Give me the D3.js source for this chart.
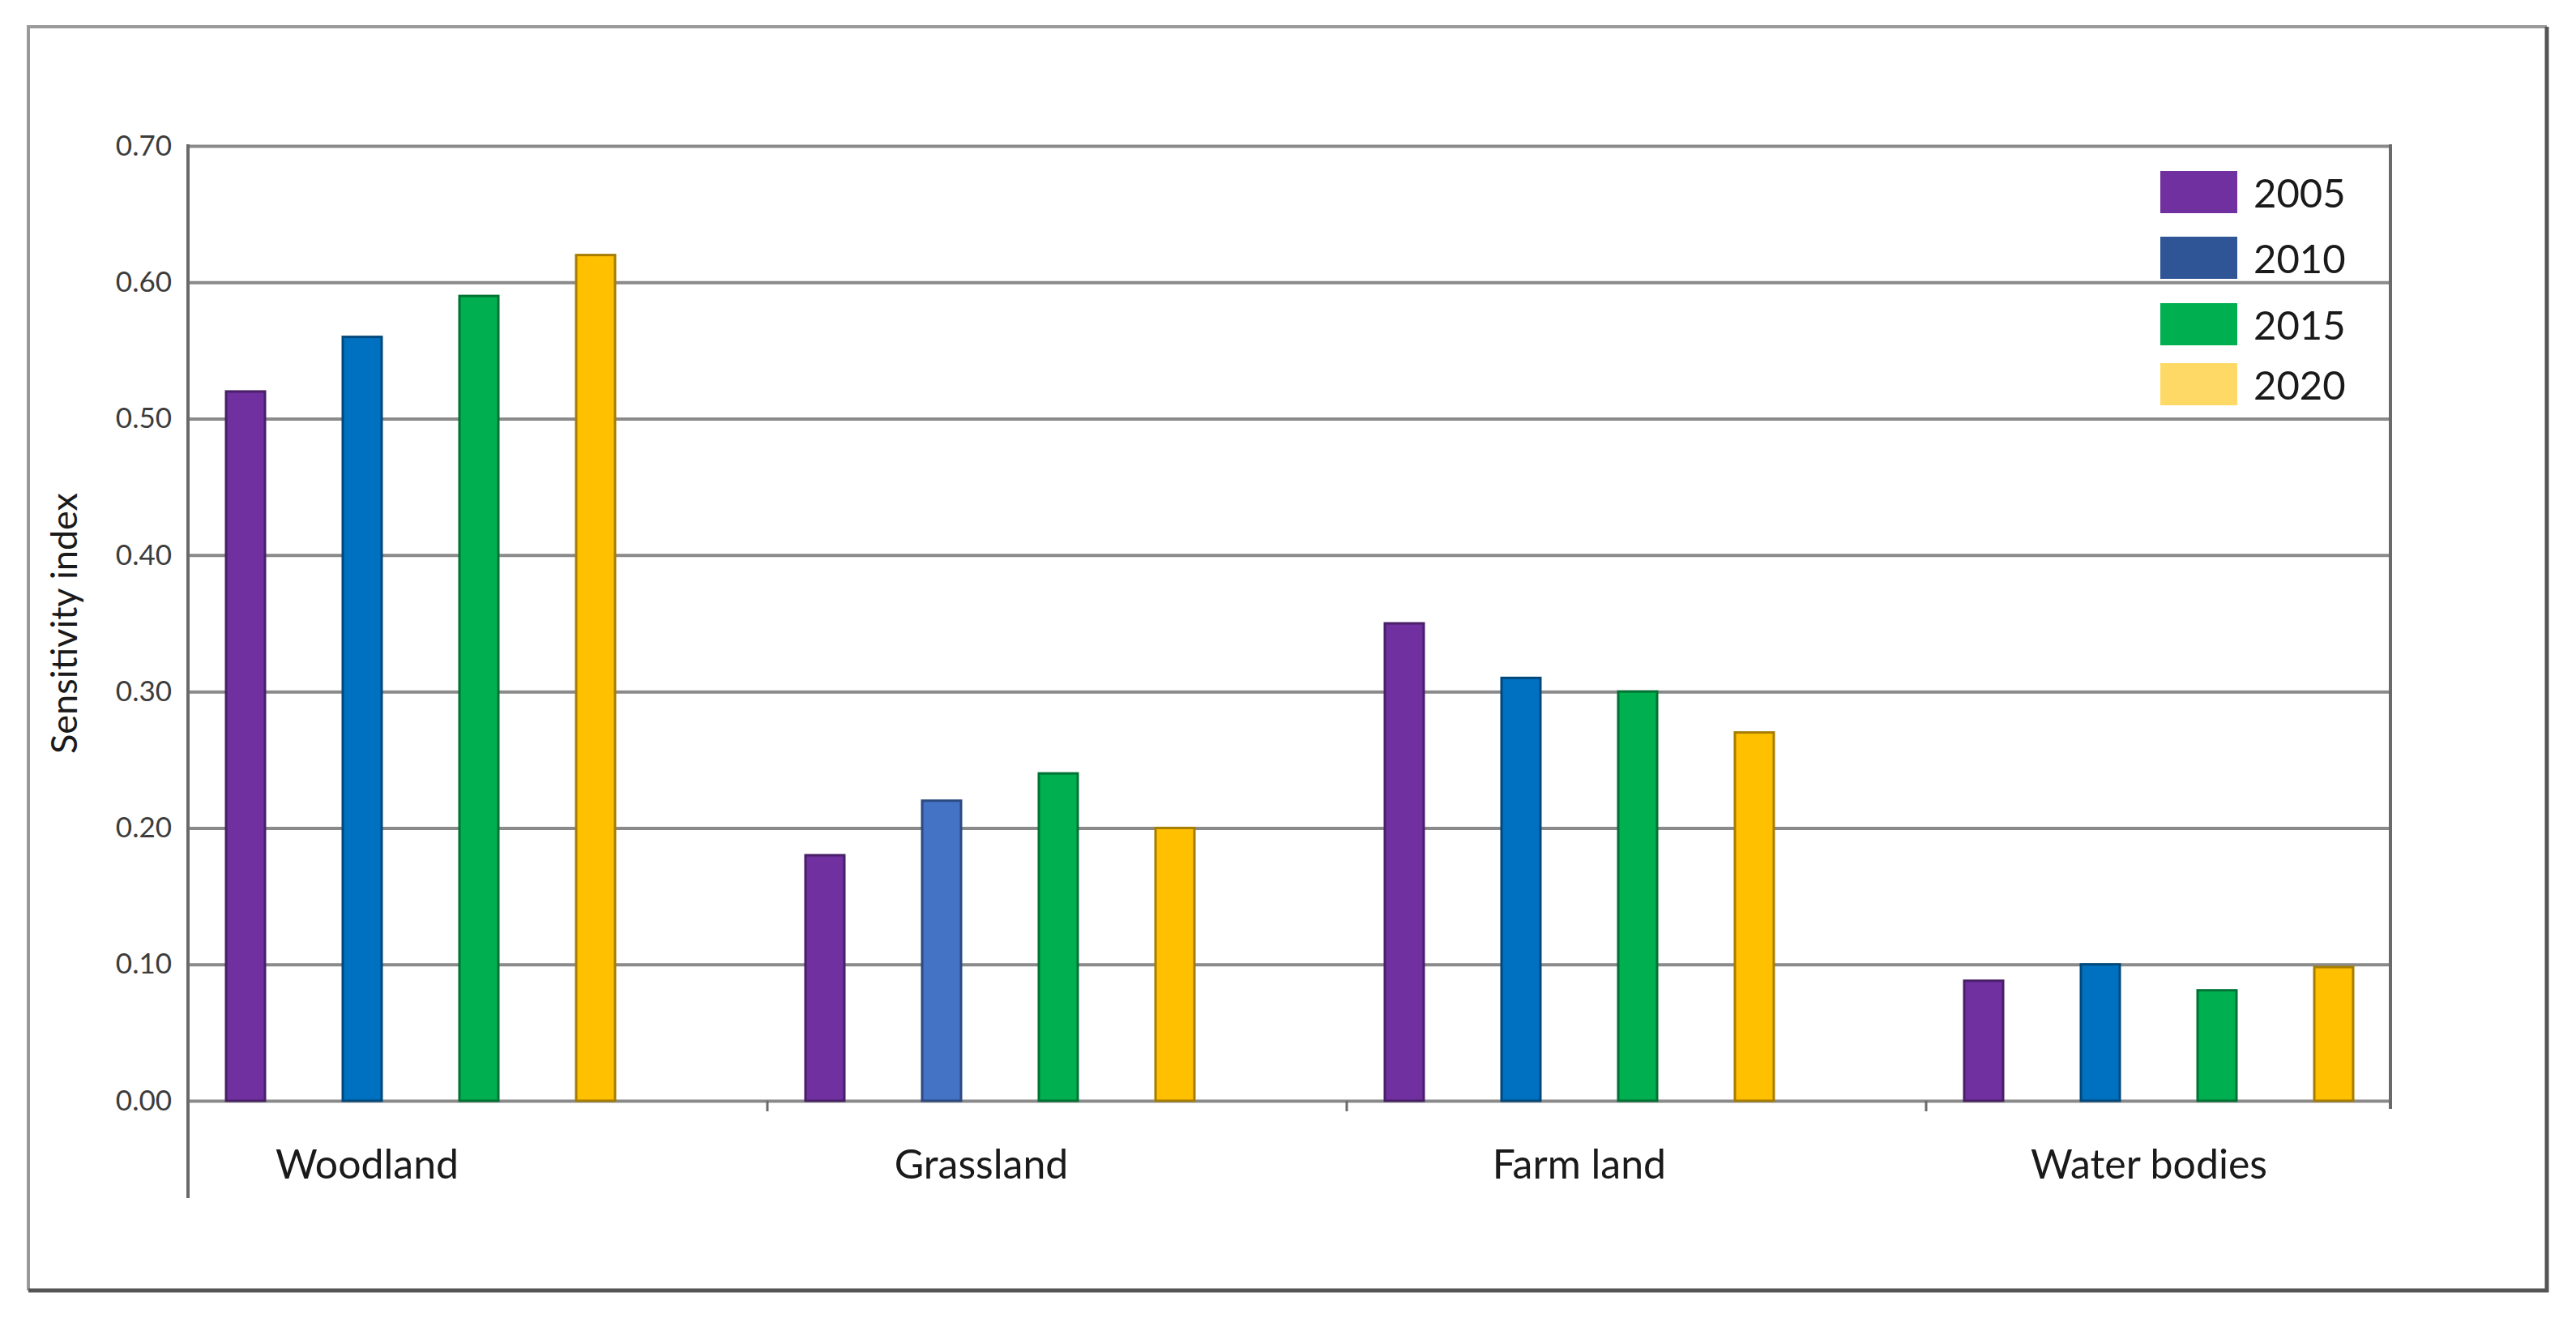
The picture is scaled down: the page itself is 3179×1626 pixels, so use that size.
<!DOCTYPE html>
<html>
<head>
<meta charset="utf-8">
<script src="https://cdn.jsdelivr.net/npm/d3@7"></script>
<style>
  html, body { margin: 0; padding: 0; background: #fff; }
  svg { display: block; }
  text { font-family: Lato, "Open Sans", sans-serif; }
</style>
</head>
<body>
<svg id="chart" width="3179" height="1626"></svg>
<script>
// ---- data ----
const categories = ["Woodland", "Grassland", "Farm land", "Water bodies"];
const years = ["2005", "2010", "2015", "2020"];
const values2005 = [0.52, 0.18, 0.35, 0.088];
const values2010 = [0.56, 0.22, 0.31, 0.10];
const values2015 = [0.59, 0.24, 0.30, 0.081];
const values2020 = [0.62, 0.20, 0.27, 0.098];
const yTicks = [0.00, 0.10, 0.20, 0.30, 0.40, 0.50, 0.60, 0.70];
const yTitle = "Sensitivity index";

// ---- styles / layout ----
const barColors = { "2005": "#7030A0", "2010": "#0070C0", "2015": "#00B050", "2020": "#FFC000" };
const barColorOverride = { "Grassland|2010": "#4472C4" };
const legendColors = { "2005": "#7030A0", "2010": "#2F5597", "2015": "#00B050", "2020": "#FFD966" };
const labelNudge = [-66, -23, 0, -12];
const legendRowY = [237, 318, 400, 474];

const series = { "2005": values2005, "2010": values2010, "2015": values2015, "2020": values2020 };

(function () {
const svg = d3.select("#chart");
svg.append("rect").attr("width", 3179).attr("height", 1626).attr("fill", "#fff");

// outer frame
const fx0 = 35, fy0 = 33, fx1 = 3143, fy1 = 1592;
svg.append("path")
  .attr("d", `M${fx0},${fy1} L${fx0},${fy0} L${fx1},${fy0}`)
  .attr("fill", "none").attr("stroke", "#9a9a9a").attr("stroke-width", 4);
svg.append("path")
  .attr("d", `M${fx1},${fy0} L${fx1},${fy1} L${fx0},${fy1}`)
  .attr("fill", "none").attr("stroke", "#555").attr("stroke-width", 5);

// plot area
const pLeft = 232, pTop = 180, pRight = 2950, pBottom = 1358;
const bandW = 715;

const x0 = d3.scaleBand().domain(categories).range([pLeft, pLeft + bandW * categories.length]).padding(0);
const x1 = d3.scalePoint().domain(years).range([71, 503]);
const y = d3.scaleLinear().domain([0, 0.7]).range([pBottom, pTop]);
const barW = 48;

// gridlines
const grid = svg.append("g").attr("transform", `translate(${pLeft},0)`)
  .call(d3.axisLeft(y).tickValues(yTicks).tickSize(-(pRight - pLeft)).tickFormat(""));
grid.select(".domain").remove();
grid.selectAll(".tick line").attr("stroke", "#8a8a8a").attr("stroke-width", 4);

// bars
const bars = [];
categories.forEach((c, ci) => {
  years.forEach(yr => {
    bars.push({ cat: c, year: yr, value: series[yr][ci] });
  });
});
const fillOf = d => barColorOverride[d.cat + "|" + d.year] || barColors[d.year];
svg.append("g").selectAll("rect").data(bars).join("rect")
  .attr("x", d => x0(d.cat) + x1(d.year) - barW / 2)
  .attr("y", d => y(d.value))
  .attr("width", barW)
  .attr("height", d => y(0) - y(d.value))
  .attr("fill", fillOf)
  .attr("stroke", d => d3.color(fillOf(d)).darker(1.2))
  .attr("stroke-width", 3);

// y axis line extended below
svg.append("line").attr("x1", pLeft).attr("x2", pLeft).attr("y1", pTop - 2).attr("y2", 1478)
  .attr("stroke", "#6a6a6a").attr("stroke-width", 4);
// right edge
svg.append("line").attr("x1", pRight).attr("x2", pRight).attr("y1", pTop - 2).attr("y2", 1368)
  .attr("stroke", "#6a6a6a").attr("stroke-width", 4);
// category divider ticks
svg.append("g").selectAll("line").data(categories.slice(1)).join("line")
  .attr("x1", d => x0(d)).attr("x2", d => x0(d))
  .attr("y1", pBottom).attr("y2", pBottom + 13)
  .attr("stroke", "#6a6a6a").attr("stroke-width", 3);

// y tick labels
const yAxis = svg.append("g").attr("transform", `translate(${pLeft},0)`)
  .call(d3.axisLeft(y).tickValues(yTicks).tickSize(0).tickPadding(20).tickFormat(d3.format(".2f")));
yAxis.select(".domain").remove();
yAxis.selectAll("text").attr("font-size", 35).attr("fill", "#3c3c3c")
  .style("font-family", "Lato, sans-serif");

// y title
svg.append("text")
  .attr("transform", `translate(78,${(pTop + pBottom) / 2}) rotate(-90)`)
  .attr("text-anchor", "middle").attr("dominant-baseline", "central")
  .attr("font-size", 45).attr("fill", "#1a1a1a")
  .text(yTitle);

// category labels
svg.append("g").selectAll("text").data(categories).join("text")
  .attr("x", (d, i) => x0(d) + (x1.range()[0] + x1.range()[1]) / 2 + labelNudge[i])
  .attr("y", 1454)
  .attr("text-anchor", "middle")
  .attr("font-size", 50).attr("fill", "#1a1a1a")
  .text(d => d);

// legend
const lg = svg.append("g");
lg.selectAll("rect").data(years).join("rect")
  .attr("x", 2666).attr("y", (d, i) => legendRowY[i] - 26)
  .attr("width", 95).attr("height", 52)
  .attr("fill", d => legendColors[d]);
lg.selectAll("text").data(years).join("text")
  .attr("x", 2781).attr("y", (d, i) => legendRowY[i])
  .attr("dominant-baseline", "central")
  .attr("font-size", 49).attr("fill", "#1a1a1a")
  .text(d => d);
})();
</script>
</body>
</html>
